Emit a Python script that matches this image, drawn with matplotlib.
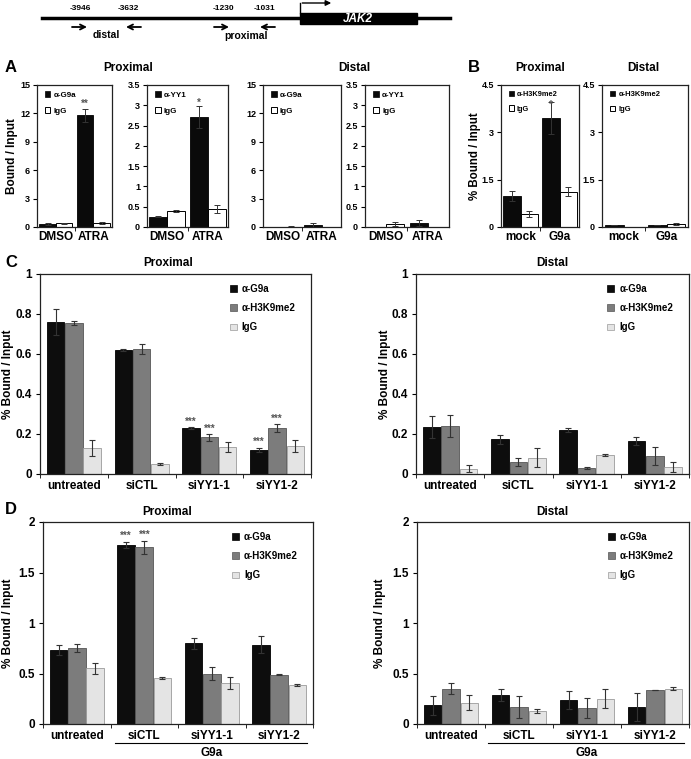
import numpy as np
import matplotlib
matplotlib.use("Agg")
import matplotlib.pyplot as plt
import matplotlib.transforms as mtransforms
from matplotlib.patches import Rectangle, Patch

plt.rcParams['font.family'] = ['Liberation Sans', 'DejaVu Sans']
plt.rcParams['font.weight'] = 'bold'

W, H = 691, 759

# ---- data ----
# panel A / B (two bars per group)
a_groups = ["DMSO", "ATRA"]
b_groups = ["mock", "G9a"]

a1_g9a = [0.3, 11.8];  a1_g9a_err = [0.1, 0.7]
a1_igg = [0.4, 0.4];   a1_igg_err = [0.05, 0.1]
a2_yy1 = [0.25, 2.72]; a2_yy1_err = [0.01, 0.27]
a2_igg = [0.4, 0.45];  a2_igg_err = [0.03, 0.1]
a3_g9a = [0.0, 0.2];   a3_g9a_err = [0.0, 0.2]
a3_igg = [0.05, 0.0];  a3_igg_err = [0.05, 0.0]
a4_yy1 = [0.0, 0.1];   a4_yy1_err = [0.0, 0.07]
a4_igg = [0.07, 0.0];  a4_igg_err = [0.05, 0.0]
b1_h3 = [0.98, 3.45];  b1_h3_err = [0.15, 0.5]
b1_igg = [0.42, 1.12]; b1_igg_err = [0.1, 0.15]
b2_h3 = [0.05, 0.07];  b2_h3_err = [0.0, 0.0]
b2_igg = [0.01, 0.1];  b2_igg_err = [0.0, 0.03]

# panel C / D (three bars per group)
cd_groups = ["untreated", "siCTL", "siYY1-1", "siYY1-2"]
series_names = ["\u03b1-G9a", "\u03b1-H3K9me2", "IgG"]

c_prox = [[0.76, 0.62, 0.228, 0.122],
          [0.755, 0.623, 0.183, 0.23],
          [0.13, 0.052, 0.133, 0.14]]
c_prox_err = [[0.065, 0.003, 0.005, 0.01],
              [0.01, 0.025, 0.017, 0.02],
              [0.04, 0.005, 0.025, 0.03]]
c_dist = [[0.235, 0.173, 0.222, 0.165],
          [0.24, 0.06, 0.03, 0.09],
          [0.027, 0.082, 0.095, 0.035]]
c_dist_err = [[0.057, 0.022, 0.01, 0.02],
              [0.057, 0.022, 0.004, 0.043],
              [0.017, 0.048, 0.006, 0.025]]
d_prox = [[0.73, 1.775, 0.8, 0.785],
          [0.755, 1.75, 0.5, 0.49],
          [0.55, 0.455, 0.41, 0.385]]
d_prox_err = [[0.05, 0.03, 0.055, 0.085],
              [0.04, 0.065, 0.065, 0.003],
              [0.05, 0.01, 0.06, 0.01]]
d_dist = [[0.185, 0.285, 0.24, 0.17],
          [0.35, 0.17, 0.16, 0.335],
          [0.21, 0.13, 0.25, 0.35]]
d_dist_err = [[0.095, 0.06, 0.09, 0.14],
              [0.055, 0.11, 0.1, 0.003],
              [0.075, 0.02, 0.095, 0.015]]

# significance marks: (series index, group index)
c_prox_stars = [(0, 2), (1, 2), (0, 3), (1, 3)]
d_prox_stars = [(0, 1), (1, 1)]

# primer diagram
primer_labels = ["-3946", "-3632", "-1230", "-1031"]

fig = plt.figure(figsize=(W / 100, H / 100), dpi=100)


def px_axes(x0, y0, x1, y1):
    return fig.add_axes([x0 / W, 1 - y1 / H, (x1 - x0) / W, (y1 - y0) / H])


def ftext(x, y, s, **kw):
    fig.text(x / W, 1 - y / H, s, **kw)


def frame(ax):
    for sp in ax.spines.values():
        sp.set_linewidth(0.9)
        sp.set_color('#222222')


# ---- top diagram ----
dg = px_axes(0, 0, W, 48)
dg.set_xlim(0, W)
dg.set_ylim(48, 0)
dg.axis('off')
dg.plot([42, 450], [18, 18], color='black', lw=2.5)
dg.add_patch(Rectangle((300, 12.5), 117, 11.5, color='black'))
dg.text(358, 18.5, "JAK2", color='white', fontsize=8.5, style='italic',
        ha='center', va='center')
dg.plot([300, 300], [13, 3], color='black', lw=1)
dg.annotate("", xy=(334, 3), xytext=(299.5, 3),
            arrowprops=dict(arrowstyle='-|>', color='black', lw=1,
                            mutation_scale=8))
for lab, x in zip(primer_labels, [80, 128, 223, 264]):
    dg.text(x, 11.5, lab, fontsize=6, ha='center', va='bottom')
for x0, x1 in [(72, 87), (141, 126), (214, 229), (275, 260)]:
    dg.annotate("", xy=(x1, 27), xytext=(x0, 27),
                arrowprops=dict(arrowstyle='->', color='black', lw=1.3,
                                mutation_scale=9, shrinkA=0, shrinkB=0))
dg.text(106, 35, "distal", fontsize=7.5, ha='center', va='center')
dg.text(246, 36, "proximal", fontsize=7.5, ha='center', va='center')


# ---- panels A and B ----
def two_bar(ax, groups, v1, e1, v2, e2, ymax, yticks, ylabels, name1,
            star=None, leg_size=5.8):
    x = np.arange(len(groups))
    w = 0.44
    ax.bar(x - w / 2, v1, w, color='#0a0a0a', edgecolor='black', lw=0.6,
           yerr=e1, error_kw=dict(ecolor='#333333', elinewidth=0.7,
                                  capsize=2, capthick=0.7))
    ax.bar(x + w / 2, v2, w, color='white', edgecolor='black', lw=0.7,
           yerr=e2, error_kw=dict(ecolor='#333333', elinewidth=0.7,
                                  capsize=2, capthick=0.7))
    ax.set_xlim(-0.5, len(groups) - 0.5)
    ax.set_ylim(0, ymax)
    ax.set_yticks(yticks, ylabels)
    ax.set_xticks(x, groups)
    ax.set_xticks([0.5], minor=True)
    ax.tick_params(axis='x', which='major', length=0, labelsize=8.5, pad=3)
    ax.tick_params(axis='x', which='minor', length=3, direction='out')
    ax.tick_params(axis='y', length=3, direction='out', labelsize=6.5, pad=2)
    frame(ax)
    if star is not None:
        gi, txt, yy = star
        ax.text(gi - w / 2, yy, txt, ha='center', va='bottom',
                fontsize=7, color='#555555')
    handles = [Patch(facecolor='#0a0a0a', edgecolor='black', lw=0.5),
               Patch(facecolor='white', edgecolor='black', lw=0.7)]
    ax.legend(handles, [name1, "IgG"], loc='upper left',
              bbox_to_anchor=(0.04, 0.99), frameon=False, fontsize=leg_size,
              handlelength=0.7, handleheight=0.7, handletextpad=0.4,
              labelspacing=1.0, borderaxespad=0.2)


a_ticks15 = [0, 3, 6, 9, 12, 15]
a_ticks35 = [0, 0.5, 1, 1.5, 2, 2.5, 3, 3.5]
a_lab35 = ["0", "0.5", "1", "1.5", "2", "2.5", "3", "3.5"]
b_ticks = [0, 1.5, 3, 4.5]
b_lab = ["0", "1.5", "3", "4.5"]

ax = px_axes(37, 85, 112, 227)
two_bar(ax, a_groups, a1_g9a, a1_g9a_err, a1_igg, a1_igg_err, 15,
        a_ticks15, [str(t) for t in a_ticks15], "\u03b1-G9a",
        star=(1, "**", 12.45))
ax = px_axes(147, 85, 228, 227)
two_bar(ax, a_groups, a2_yy1, a2_yy1_err, a2_igg, a2_igg_err, 3.5,
        a_ticks35, a_lab35, "\u03b1-YY1", star=(1, "*", 2.93))
ax = px_axes(263, 85, 341, 227)
two_bar(ax, a_groups, a3_g9a, a3_g9a_err, a3_igg, a3_igg_err, 15,
        a_ticks15, [str(t) for t in a_ticks15], "\u03b1-G9a")
ax = px_axes(365, 85, 449, 227)
two_bar(ax, a_groups, a4_yy1, a4_yy1_err, a4_igg, a4_igg_err, 3.5,
        a_ticks35, a_lab35, "\u03b1-YY1")
ax = px_axes(501, 85, 579, 227)
two_bar(ax, b_groups, b1_h3, b1_h3_err, b1_igg, b1_igg_err, 4.5,
        b_ticks, b_lab, "\u03b1-H3K9me2", star=(1, "*", 3.72),
        leg_size=5.3)
ax = px_axes(602, 85, 688, 227)
two_bar(ax, b_groups, b2_h3, b2_h3_err, b2_igg, b2_igg_err, 4.5,
        b_ticks, b_lab, "\u03b1-H3K9me2", leg_size=5.5)

ftext(5, 68, "A", fontsize=12, va='center')
ftext(468, 68, "B", fontsize=12, va='center')
ftext(128, 68, "Proximal", fontsize=8.5, ha='center', va='center')
ftext(354, 68, "Distal", fontsize=8.5, ha='center', va='center')
ftext(540, 68, "Proximal", fontsize=8.5, ha='center', va='center')
ftext(643, 68, "Distal", fontsize=8.5, ha='center', va='center')
ftext(12, 156, "Bound / Input", fontsize=8.5, rotation=90,
      ha='center', va='center')
ftext(475, 156, "% Bound / Input", fontsize=8.3, rotation=90,
      ha='center', va='center')

# ---- panels C and D ----
bar_cols = ['#0d0d0d', '#7c7c7c', '#e4e4e4']
edge_cols = ['#000000', '#555555', '#9a9a9a']


def three_bar(ax, vals, errs, ymax, yticks, ylabels, stars=(),
              g9a_line=None):
    x = np.arange(len(cd_groups))
    w = 0.26
    offs = [-0.27, 0.0, 0.27]
    for i in range(3):
        ax.bar(x + offs[i], vals[i], w, color=bar_cols[i],
               edgecolor=edge_cols[i], lw=0.6, yerr=errs[i],
               error_kw=dict(ecolor='#333333', elinewidth=0.8,
                             capsize=2.2, capthick=0.8))
    for si, gi in stars:
        top = vals[si][gi] + errs[si][gi]
        ax.text(gi + offs[si], top + ymax * 0.003, "***", ha='center',
                va='bottom', fontsize=7, color='#555555')
    ax.set_xlim(-0.5, len(cd_groups) - 0.5)
    ax.set_ylim(0, ymax)
    ax.set_yticks(yticks, ylabels)
    ax.set_xticks(x, cd_groups)
    ax.set_xticks(np.arange(len(cd_groups) + 1) - 0.5, minor=True)
    ax.tick_params(axis='x', which='major', length=0, labelsize=8.5, pad=4)
    ax.tick_params(axis='x', which='minor', length=3, direction='out')
    ax.tick_params(axis='y', length=3, direction='out', labelsize=8.5, pad=3)
    frame(ax)
    handles = [Patch(facecolor=bar_cols[i], edgecolor=edge_cols[i], lw=0.5)
               for i in range(3)]
    ax.legend(handles, series_names, loc='upper left',
              bbox_to_anchor=(0.68, 0.98), frameon=False, fontsize=7,
              handlelength=0.7, handleheight=0.7, handletextpad=0.5,
              labelspacing=0.95, borderaxespad=0.2)
    if g9a_line is not None:
        trans = mtransforms.blended_transform_factory(ax.transData,
                                                      ax.transAxes)
        ax.plot(g9a_line, [-0.094, -0.094], color='black', lw=0.8,
                transform=trans, clip_on=False)
        ax.text(2.0, -0.145, "G9a", transform=trans, ha='center',
                va='center', fontsize=8.5)


c_ticks = [0, 0.2, 0.4, 0.6, 0.8, 1]
c_lab = ["0", "0.2", "0.4", "0.6", "0.8", "1"]
d_ticks = [0, 0.5, 1, 1.5, 2]
d_lab = ["0", "0.5", "1", "1.5", "2"]

ax = px_axes(40, 274, 311, 474)
three_bar(ax, c_prox, c_prox_err, 1, c_ticks, c_lab, stars=c_prox_stars)
ax = px_axes(416, 274, 689, 474)
three_bar(ax, c_dist, c_dist_err, 1, c_ticks, c_lab)
ax = px_axes(43, 522, 313, 724)
three_bar(ax, d_prox, d_prox_err, 2, d_ticks, d_lab, stars=d_prox_stars,
          g9a_line=[0.57, 3.41])
ax = px_axes(417, 522, 689, 724)
three_bar(ax, d_dist, d_dist_err, 2, d_ticks, d_lab, g9a_line=[0.54, 3.43])

ftext(5, 262, "C", fontsize=12, va='center')
ftext(5, 510, "D", fontsize=12, va='center')
ftext(168, 263, "Proximal", fontsize=8.5, ha='center', va='center')
ftext(552, 263, "Distal", fontsize=8.5, ha='center', va='center')
ftext(167, 512, "Proximal", fontsize=8.5, ha='center', va='center')
ftext(552, 512, "Distal", fontsize=8.5, ha='center', va='center')
ftext(8, 374, "% Bound / Input", fontsize=8.5, rotation=90,
      ha='center', va='center')
ftext(385, 374, "% Bound / Input", fontsize=8.5, rotation=90,
      ha='center', va='center')
ftext(8, 623, "% Bound / Input", fontsize=8.5, rotation=90,
      ha='center', va='center')
ftext(380, 623, "% Bound / Input", fontsize=8.5, rotation=90,
      ha='center', va='center')

fig.savefig("out.png", dpi=100)
